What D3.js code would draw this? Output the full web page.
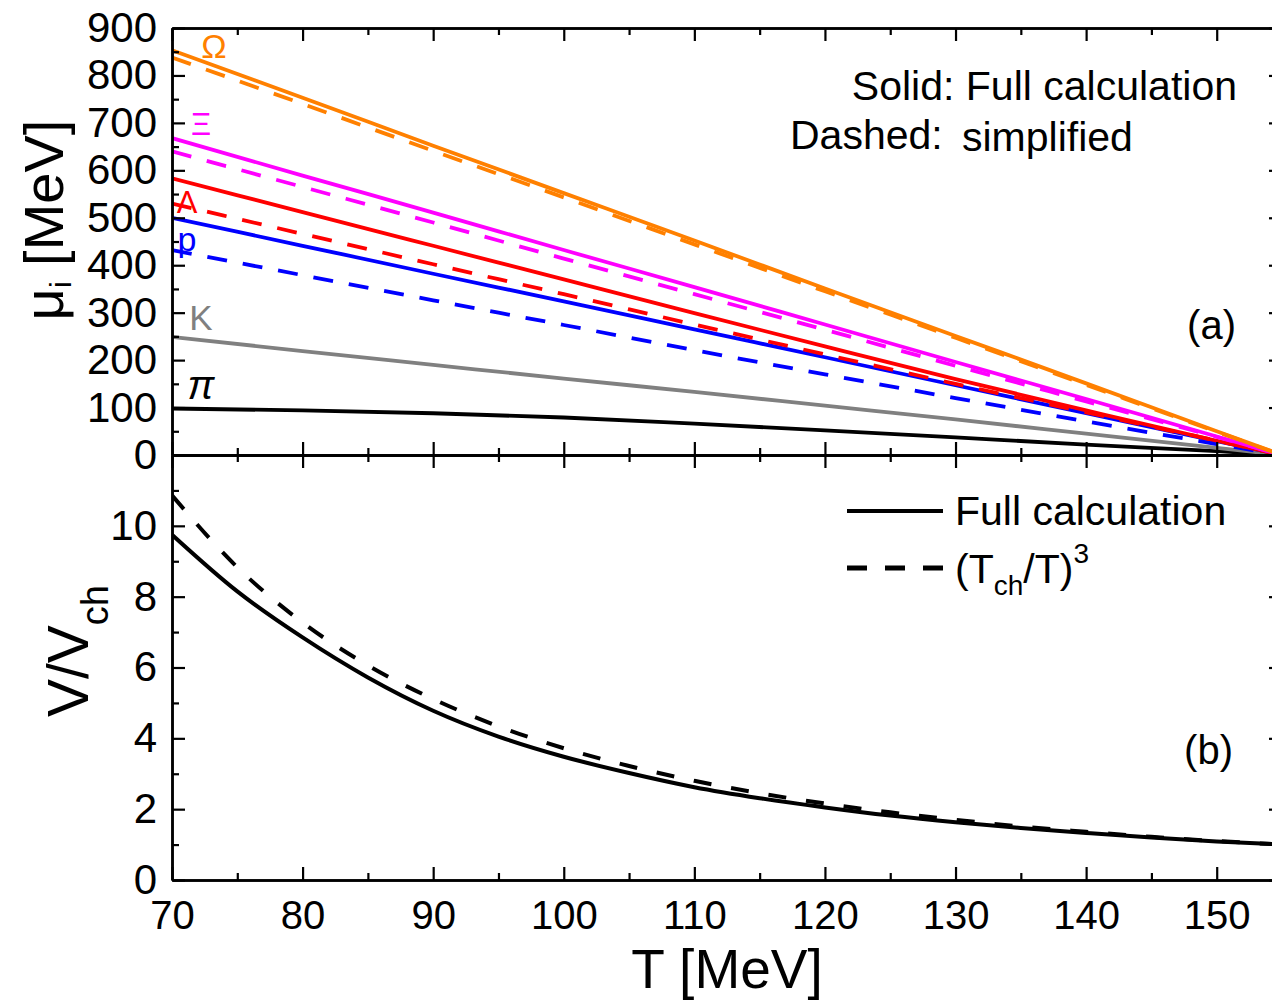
<!DOCTYPE html>
<html><head><meta charset="utf-8">
<script src="https://cdn.jsdelivr.net/npm/d3@7"></script>
<style>
body{margin:0;background:#fff}
svg{display:block}
text{font-family:"Liberation Sans",Arial,sans-serif;fill:#000}
</style>
</head><body>
<svg id="c" width="1272" height="1003"></svg>
<script>
// ---------- data ----------
const tGrid = [70,80,90,100,110,120,130,140,150,155];
const muOmegaFull  = [853,753,652,552,452,351,251,151,50,0];
const muOmegaSimp  = [838,740,641,543,444,345,247,148,49,0];
const muXiFull     = [668,589,511,432,354,275,196,118,39,0];
const muXiSimp     = [640,565,490,414,339,264,188,113,38,0];
const muLambdaFull = [583,512,441,370,299,229,160,94,30,0];
const muLambdaSimp = [530,466,402,339,275,212,150,90,30,0];
const muProtonFull = [500,441,382,324,265,206,147,88,29,0];
const muProtonSimp = [432,379,326,274,221,170,120,71,23,0];
const muKaonFull   = [249,219,190,161,133,104,75,45,15,0];
const muPionFull   = [98,94,88,79,66,52,37,22,8,0];

const tVol    = [70,75,80,85,90,95,100,105,110,115,120,125,130,135,140,145,150,155];
const volFull = [9.75,8.15,6.85,5.72,4.78,4.05,3.48,3.02,2.62,2.31,2.05,1.82,1.63,1.47,1.33,1.20,1.09,1.00];
const volSimp = [10.86,8.83,7.27,6.06,5.11,4.34,3.72,3.22,2.80,2.45,2.16,1.91,1.70,1.51,1.36,1.22,1.10,1.00];

const xMajor = [70,80,90,100,110,120,130,140,150];
const xMinor = [75,85,95,105,115,125,135,145,155];
const muMajor = [0,100,200,300,400,500,600,700,800,900];
const muMinor = [50,150,250,350,450,550,650,750,850];
const volMajor = [0,2,4,6,8,10];
const volMinor = [1,3,5,7,9,11];

const seriesTop = [
  {name:"pi",    vals:muPionFull,   color:"#000000", dash:null},
  {name:"K",     vals:muKaonFull,   color:"#808080", dash:null},
  {name:"p",     vals:muProtonFull, color:"#0000FF", dash:null},
  {name:"p-s",   vals:muProtonSimp, color:"#0000FF", dash:"20,16"},
  {name:"L",     vals:muLambdaFull, color:"#FF0000", dash:null},
  {name:"L-s",   vals:muLambdaSimp, color:"#FF0000", dash:"20,16"},
  {name:"Xi",    vals:muXiFull,     color:"#FF00FF", dash:null},
  {name:"Xi-s",  vals:muXiSimp,     color:"#FF00FF", dash:"20,16"},
  {name:"Om",    vals:muOmegaFull,  color:"#FF8000", dash:null},
  {name:"Om-s",  vals:muOmegaSimp,  color:"#FF8000", dash:"20,16"}
];

// ---------- scales ----------
const svg = d3.select("#c");
const X0 = 172, X1 = 1282, YT = 28, YM = 455, YB = 880;
const x = d3.scaleLinear().domain([70,155]).range([X0,X1]);
const yTop = d3.scaleLinear().domain([0,900]).range([YM,YT]);
const yBot = d3.scaleLinear().domain([0,12]).range([YB,YM]);

const defs = svg.append("defs");
defs.append("clipPath").attr("id","clipTop").append("rect")
  .attr("x",X0).attr("y",YT).attr("width",X1-X0).attr("height",YM-YT);
defs.append("clipPath").attr("id","clipBot").append("rect")
  .attr("x",X0).attr("y",YM).attr("width",X1-X0).attr("height",YB-YM);

// ---------- lines top ----------
const gTop = svg.append("g").attr("clip-path","url(#clipTop)");
const lineTop = d3.line().x((d,i)=>x(tGrid[i])).y(d=>yTop(d)).curve(d3.curveMonotoneX);
seriesTop.forEach(s=>{
  gTop.append("path").attr("d",lineTop(s.vals)).attr("fill","none")
    .attr("stroke",s.color).attr("stroke-width",3.8)
    .attr("stroke-dasharray",s.dash);
});

// ---------- lines bottom ----------
const gBot = svg.append("g").attr("clip-path","url(#clipBot)");
const lineBot = d3.line().x((d,i)=>x(tVol[i])).y(d=>yBot(d)).curve(d3.curveMonotoneX);
gBot.append("path").attr("d",lineBot(volSimp)).attr("fill","none")
  .attr("stroke","#000").attr("stroke-width",4).attr("stroke-dasharray","18,20");
gBot.append("path").attr("d",lineBot(volFull)).attr("fill","none")
  .attr("stroke","#000").attr("stroke-width",4);

// ---------- axes ----------
function styleAxis(g, fs){
  g.selectAll("path.domain").attr("stroke","#000").attr("stroke-width",2.5);
  g.selectAll(".tick line").attr("stroke","#000").attr("stroke-width",2.2);
  g.selectAll("text").attr("font-size",fs).attr("font-family","'Liberation Sans',Arial,sans-serif").attr("fill","#000");
}
function addAxis(axisGen, transform, vals, size, labels, pad, fs){
  const a = axisGen.tickValues(vals).tickSizeInner(-size).tickSizeOuter(0).tickPadding(pad||0);
  if(!labels) a.tickFormat("");
  const g = svg.append("g").attr("transform",transform).call(a);
  styleAxis(g, fs||40);
  return g;
}
// bottom x axis
addAxis(d3.axisBottom(x), `translate(0,${YB})`, xMajor, 13, true, 21, 40);
addAxis(d3.axisBottom(x), `translate(0,${YB})`, xMinor, 7, false);
// middle line: top panel bottom ticks (up) & bottom panel top ticks (down)
addAxis(d3.axisBottom(x), `translate(0,${YM})`, xMajor, 13, false);
addAxis(d3.axisBottom(x), `translate(0,${YM})`, xMinor, 7, false);
addAxis(d3.axisTop(x), `translate(0,${YM})`, xMajor, 13, false);
addAxis(d3.axisTop(x), `translate(0,${YM})`, xMinor, 7, false);
// top frame
addAxis(d3.axisTop(x), `translate(0,${YT})`, xMajor, 13, false);
addAxis(d3.axisTop(x), `translate(0,${YT})`, xMinor, 7, false);
// left axes
addAxis(d3.axisLeft(yTop), `translate(${X0},0)`, muMajor, 13, true, 15, 42);
addAxis(d3.axisLeft(yTop), `translate(${X0},0)`, muMinor, 7, false);
addAxis(d3.axisLeft(yBot), `translate(${X0},0)`, volMajor, 13, true, 15, 42);
addAxis(d3.axisLeft(yBot), `translate(${X0},0)`, volMinor, 7, false);
// right axes
addAxis(d3.axisRight(yTop), `translate(${X1},0)`, muMajor, 13, false);
addAxis(d3.axisRight(yTop), `translate(${X1},0)`, muMinor, 7, false);
addAxis(d3.axisRight(yBot), `translate(${X1},0)`, volMajor, 13, false);
addAxis(d3.axisRight(yBot), `translate(${X1},0)`, volMinor, 7, false);

// ---------- axis titles ----------
const yt = svg.append("text").attr("transform","translate(63,220) rotate(-90)")
  .attr("text-anchor","middle").attr("font-size",56);
yt.append("tspan").text("μ");
yt.append("tspan").attr("font-size",30).attr("dy",8).text("i");
yt.append("tspan").attr("dy",-8).text(" [MeV]");

const yb = svg.append("text").attr("transform","translate(88,651) rotate(-90)")
  .attr("text-anchor","middle").attr("font-size",57);
yb.append("tspan").text("V/V");
yb.append("tspan").attr("font-size",38).attr("dy",20).text("ch");

svg.append("text").attr("x",(X0+X1)/2).attr("y",988).attr("text-anchor","middle")
  .attr("font-size",55).text("T [MeV]");

// ---------- particle labels ----------
const serif = "'Liberation Serif','Times New Roman',serif";
svg.append("text").attr("x",214).attr("y",58).attr("text-anchor","middle")
  .attr("font-family",serif).attr("font-size",34).style("fill","#FF8000").text("Ω");
svg.append("text").attr("x",201).attr("y",135).attr("text-anchor","middle")
  .attr("font-family",serif).attr("font-size",31).style("fill","#FF00FF").text("Ξ");
svg.append("text").attr("x",187).attr("y",213).attr("text-anchor","middle")
  .attr("font-family",serif).attr("font-size",31).style("fill","#FF0000").text("Λ");
svg.append("text").attr("x",187).attr("y",251).attr("text-anchor","middle")
  .attr("font-size",34).style("fill","#0000FF").text("p");
svg.append("text").attr("x",201).attr("y",330).attr("text-anchor","middle")
  .attr("font-size",35).style("fill","#808080").text("K");
svg.append("text").attr("x",201).attr("y",399).attr("text-anchor","middle")
  .attr("font-family",serif).attr("font-style","italic").attr("font-size",40).style("fill","#000").text("π");

// ---------- annotations ----------
svg.append("text").attr("x",1237).attr("y",100).attr("text-anchor","end")
  .attr("font-size",41).text("Solid: Full calculation");
svg.append("text").attr("x",790).attr("y",149).attr("font-size",41).text("Dashed:");
svg.append("text").attr("x",962).attr("y",151).attr("font-size",41).text("simplified");
svg.append("text").attr("x",1236).attr("y",339).attr("text-anchor","end")
  .attr("font-size",40).text("(a)");
svg.append("text").attr("x",1233).attr("y",764).attr("text-anchor","end")
  .attr("font-size",40).text("(b)");

// ---------- legend bottom ----------
svg.append("line").attr("x1",847).attr("x2",943).attr("y1",511).attr("y2",511)
  .attr("stroke","#000").attr("stroke-width",4);
svg.append("line").attr("x1",847).attr("x2",943).attr("y1",568).attr("y2",568)
  .attr("stroke","#000").attr("stroke-width",5).attr("stroke-dasharray","20,18");
svg.append("text").attr("x",955).attr("y",525).attr("font-size",41).text("Full calculation");
const lt = svg.append("text").attr("x",955).attr("y",583).attr("font-size",41);
lt.append("tspan").text("(T");
lt.append("tspan").attr("font-size",28).attr("dy",12).text("ch");
lt.append("tspan").attr("dy",-12).text("/T)");
lt.append("tspan").attr("font-size",28).attr("dy",-20).text("3");
</script>
</body></html>
